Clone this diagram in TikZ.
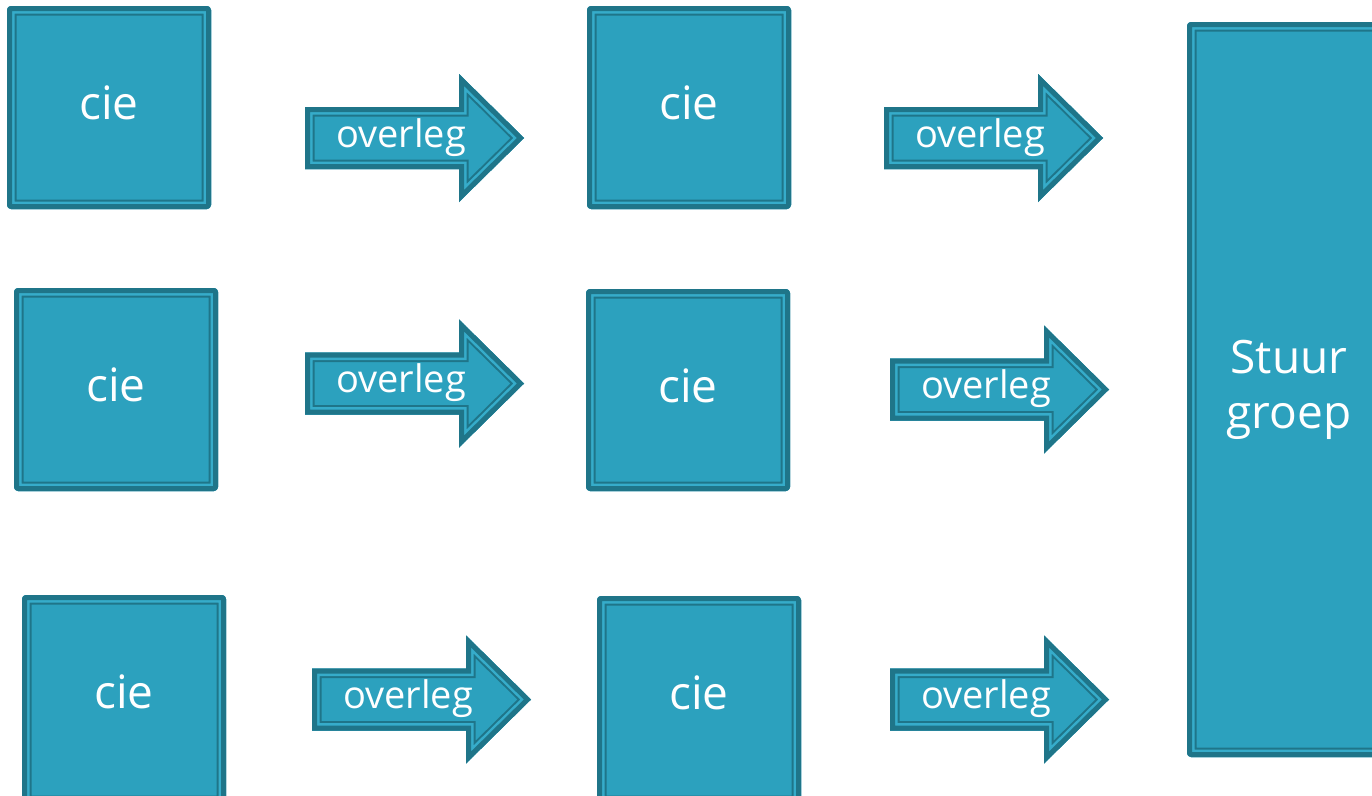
\documentclass[tikz,border=0pt]{standalone}
\usepackage{fontspec}
\setmainfont{Open Sans}
\definecolor{cmain}{RGB}{44,161,190}
\definecolor{cdark}{RGB}{31,117,137}
\definecolor{clight}{RGB}{54,172,202}
\newcommand{\layered}[1]{%
  \begin{scope}
    \clip #1;
    \fill[cmain] #1;
    \draw[cdark, line width=19pt] #1;
    \draw[clight, line width=15pt] #1;
    \draw[cdark, line width=10pt] #1;
  \end{scope}}
\newcommand{\ciebox}[5]{%
  \layered{[rounded corners=4pt] (#2,#3) rectangle (#4,#5)}
  \node[bigtext, anchor=base] (#1) at ({(#2+#4)/2},{#3+113}) {cie};}
\newcommand{\blockarrow}[3]{%
  \begin{scope}[shift={(#2,#3)}]
    \layered{(0,-31) -- (154,-31) -- (154,-64) -- (219,0) -- (154,64) -- (154,31) -- (0,31) -- cycle}
    \node[smalltext, anchor=base] (#1) at (96,9) {overleg};
  \end{scope}}
\tikzset{
  bigtext/.style={text=white, inner sep=0pt, font=\fontsize{46}{55}\selectfont},
  smalltext/.style={text=white, inner sep=0pt, font=\fontsize{38}{40}\selectfont}
}
\begin{document}
\begin{tikzpicture}[x=1pt, y=-1pt]
  \useasboundingbox (0,0) rectangle (1372,795);
  \clip (0,0) rectangle (1372,795);
  % left column
  \ciebox{c11}{7}{6}{211}{209}
  \ciebox{c21}{14}{288}{218}{491}
  \ciebox{c31}{22}{595}{226}{805}
  % middle column
  \ciebox{c12}{587}{6}{791}{209}
  \ciebox{c22}{586}{289}{790}{491}
  \ciebox{c32}{597}{596}{801}{805}
  % arrows
  \blockarrow{a11}{305}{138}
  \blockarrow{a12}{884}{138}
  \blockarrow{a21}{305}{383.5}
  \blockarrow{a22}{890}{389.5}
  \blockarrow{a31}{312}{699.5}
  \blockarrow{a32}{890}{699.5}
  % stuurgroep
  \layered{[rounded corners=4pt] (1187,22) rectangle (1420,757)}
  \node[bigtext, align=center, anchor=base] (sg) at (1289,428) {Stuur\\groep};
\end{tikzpicture}
\end{document}
